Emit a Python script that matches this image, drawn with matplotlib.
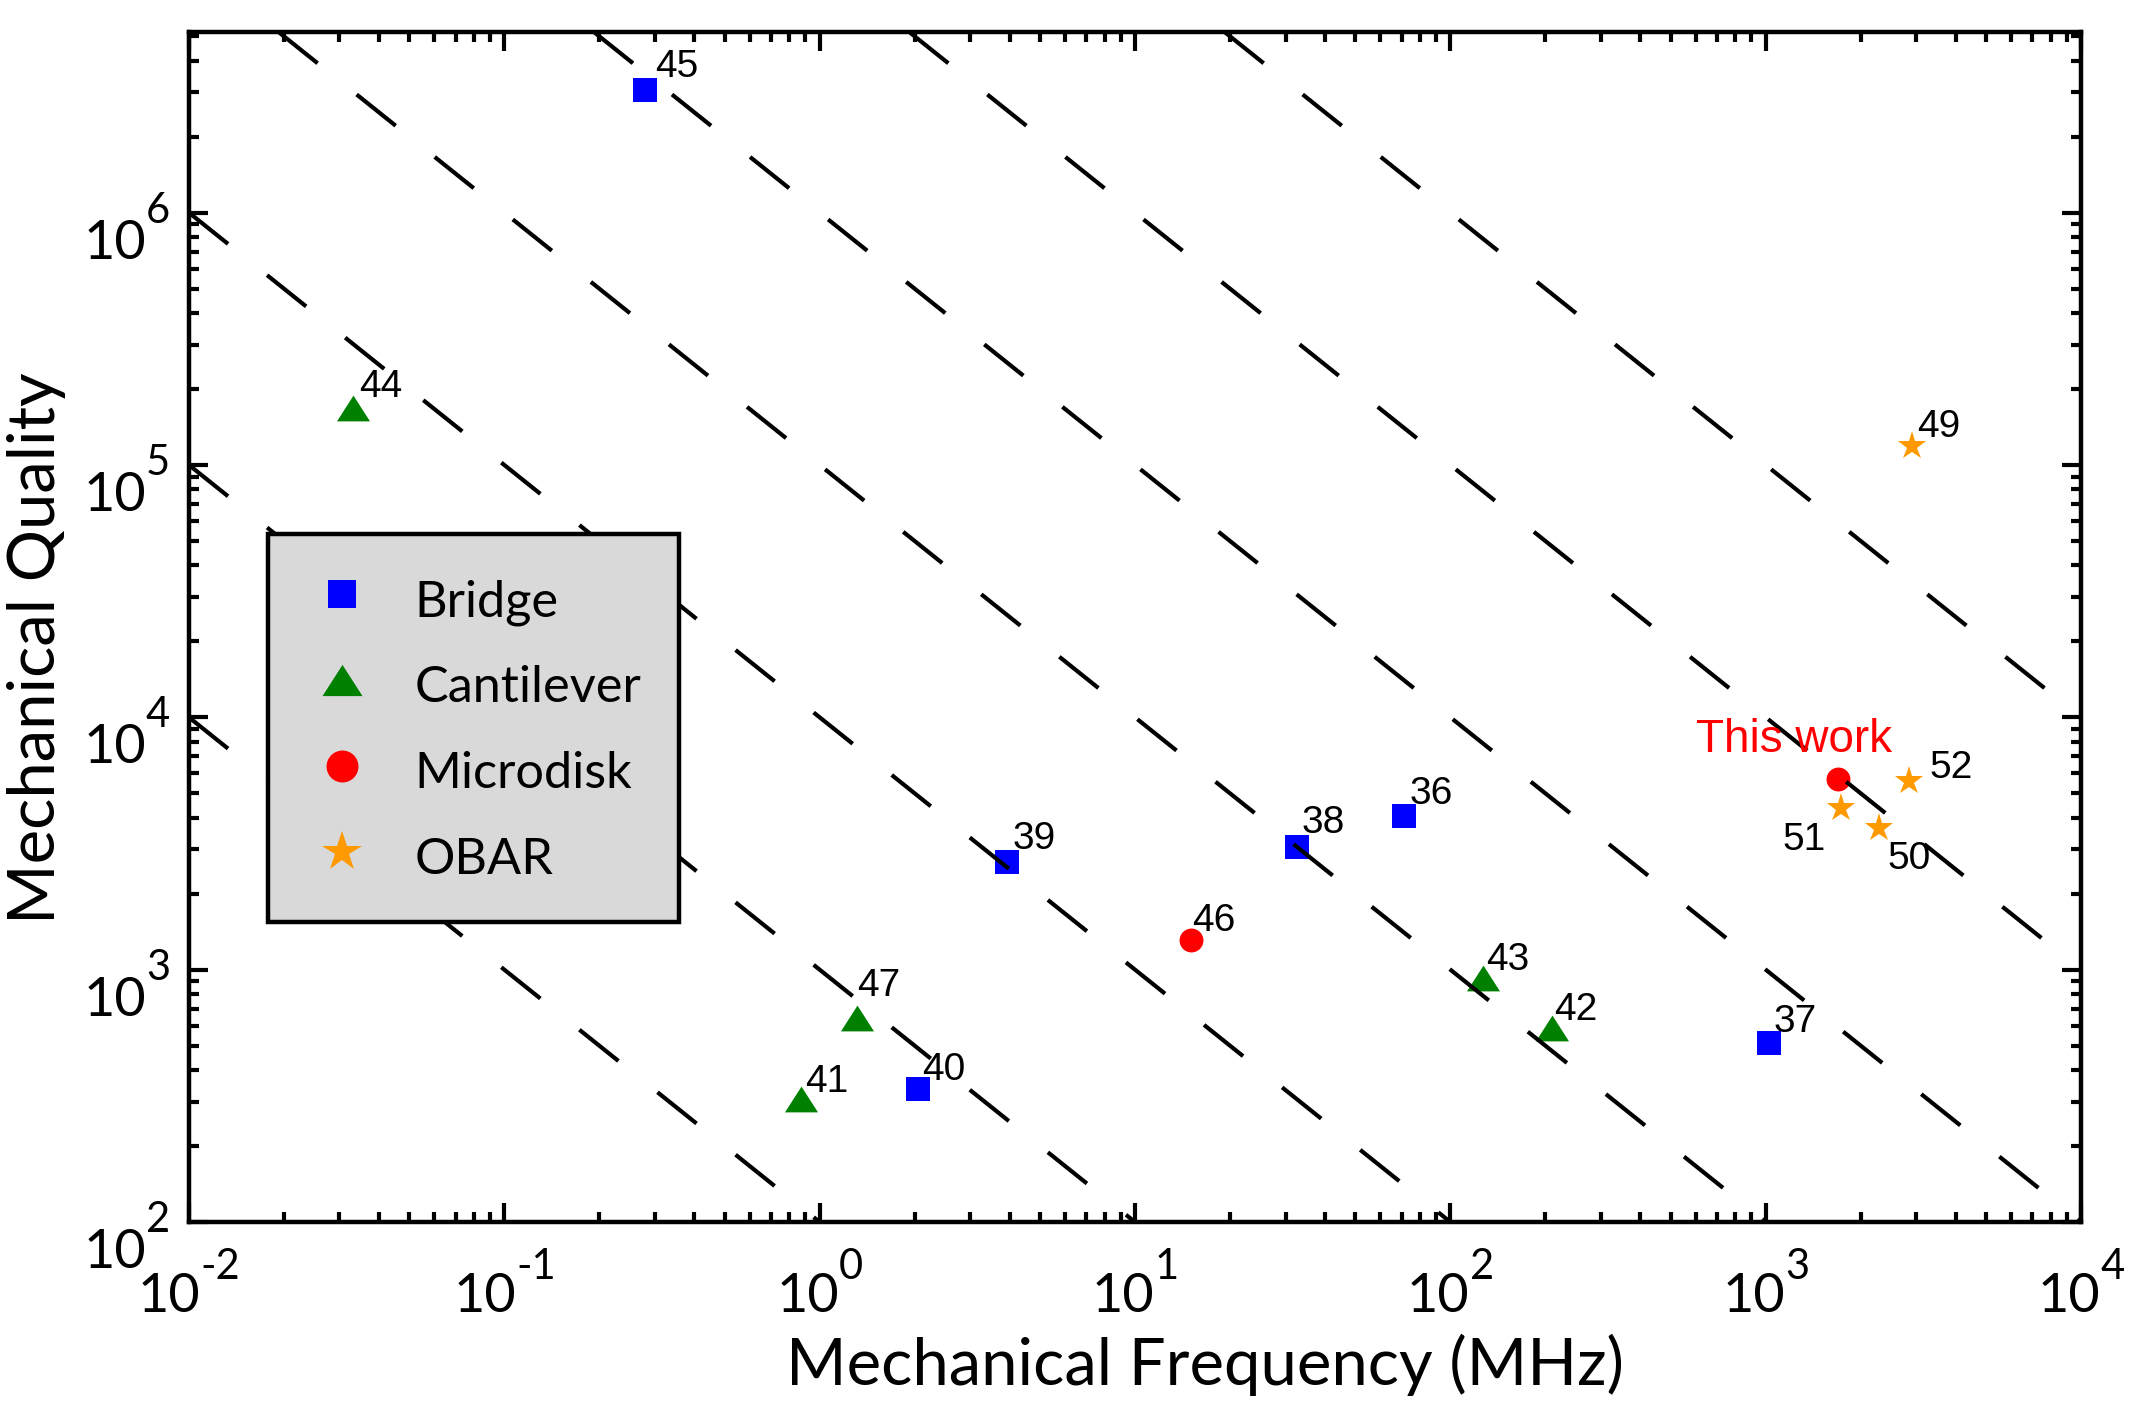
import matplotlib
matplotlib.use("Agg")
import matplotlib.pyplot as plt
from matplotlib.lines import Line2D
from matplotlib.ticker import LogLocator, NullFormatter
import numpy as np

# Reference number, mechanical frequency (MHz) and mechanical Q per device class
BRIDGE_REF = ["45", "39", "38", "36", "40", "37"]
BRIDGE_FREQ = [0.279, 3.92, 32.6, 71.3, 2.05, 1025]
BRIDGE_Q = [3.05e6, 2675, 3070, 4055, 336, 513]

CANT_REF = ["44", "47", "41", "43", "42"]
CANT_FREQ = [0.033, 1.31, 0.873, 126.7, 210]
CANT_Q = [1.69e5, 646, 308, 931, 590]

DISK_REF = ["46", "This work"]
DISK_FREQ = [15.0, 1693]
DISK_Q = [1315, 5680]

OBAR_REF = ["49", "50", "51", "52"]
OBAR_FREQ = [2904, 2285, 1734, 2856]
OBAR_Q = [1.19e5, 3630, 4360, 5610]

# constant f*Q guide lines (MHz)
FQ_PRODUCTS = [1e2, 1e3, 1e4, 1e5, 1e6, 1e7, 1e8]

XLIM = (1e-2, 1e4)
YLIM = (1e2, 5.2e6)
X_DECADES = [-2, -1, 0, 1, 2, 3, 4]
Y_DECADES = [2, 3, 4, 5, 6]

# label offsets in points from the marker centre: (dx, dy, ha)
LABEL_POS = {
    "45": (3.6, 5.0, "left"), "44": (2.4, 3.8, "left"),
    "41": (1.3, 2.5, "left"), "47": (0.0, 7.6, "left"),
    "43": (1.2, 2.8, "left"), "42": (0.8, 2.8, "left"),
    "37": (1.5, 4.0, "left"), "46": (0.7, 3.0, "left"),
    "40": (1.5, 3.5, "left"), "39": (2.2, 4.7, "left"),
    "38": (1.8, 4.8, "left"), "36": (1.8, 4.5, "left"),
    "49": (1.9, 3.2, "left"), "52": (7.3, 1.0, "left"),
    "51": (-5.4, -15.0, "right"), "50": (3.0, -14.6, "left"),
    "This work": (-15.8, 9.9, "center"),
}

BLUE = "#0000ff"
GREEN = "#008000"
RED = "#ff0000"
ORANGE = "#ff9900"
TRI = [(0, 0.78), (-1, -0.78), (1, -0.78)]

BASE_PT = 19.4
EXP_PT = 15.0


def exp_width(s):
    # rough advance width of an exponent string, in points
    return sum(0.37 if c == "-" else 0.58 for c in s) * EXP_PT


plt.rcParams["font.family"] = ["Lato", "DejaVu Sans"]

fig = plt.figure(figsize=(10.69, 7.05), dpi=200)
ax = fig.add_axes([0.0884, 0.1333, 0.8850, 0.8440])
ax.set_xscale("log")
ax.set_yscale("log")
ax.set_xlim(*XLIM)
ax.set_ylim(*YLIM)

# f*Q guide lines, clipped to the plotting box so the dash starts at the edge
for fq in FQ_PRODUCTS:
    x0 = max(XLIM[0], fq / YLIM[1])
    x1 = min(XLIM[1], fq / YLIM[0])
    ax.plot([x0, x1], [fq / x0, fq / x1], color="black", lw=1.5,
            linestyle=(0, (12, 12)), zorder=4, dash_capstyle="butt")

groups = [
    (BRIDGE_REF, BRIDGE_FREQ, BRIDGE_Q, "s", 8.8, BLUE),
    (CANT_REF, CANT_FREQ, CANT_Q, TRI, 11.9, GREEN),
    (DISK_REF, DISK_FREQ, DISK_Q, "o", 8.6, RED),
    (OBAR_REF, OBAR_FREQ, OBAR_Q, "*", 10.6, ORANGE),
]
for refs, freq, q, marker, ms, color in groups:
    ax.plot(freq, q, ls="none", marker=marker, ms=ms, color=color,
            mew=0, zorder=3)
    for r, f, v in zip(refs, freq, q):
        dx, dy, ha = LABEL_POS[r]
        this = r == "This work"
        ax.annotate(r, xy=(f, v), xytext=(dx, dy), textcoords="offset points",
                    ha=ha, va="baseline", fontsize=16.5 if this else 14,
                    color=RED if this else "black",
                    family=["Liberation Sans", "DejaVu Sans"], zorder=5)

# axes frame and ticks
for sp in ax.spines.values():
    sp.set_linewidth(1.6)
ax.xaxis.set_major_locator(LogLocator(base=10, numticks=100))
ax.yaxis.set_major_locator(LogLocator(base=10, numticks=100))
ax.xaxis.set_minor_locator(LogLocator(base=10, subs=np.arange(2, 10), numticks=100))
ax.yaxis.set_minor_locator(LogLocator(base=10, subs=np.arange(2, 10), numticks=100))
ax.xaxis.set_minor_formatter(NullFormatter())
ax.yaxis.set_minor_formatter(NullFormatter())
ax.tick_params(which="both", direction="in", top=True, right=True,
               labelbottom=False, labelleft=False, width=1.5)
ax.tick_params(which="major", length=7)
ax.tick_params(which="minor", length=3.5)

# MATLAB-style decade labels with a raised exponent
for k in X_DECADES:
    e = str(k)
    ten = ax.annotate("10", xy=(10.0 ** k, 0), xycoords=("data", "axes fraction"),
                      xytext=(-exp_width(e) / 2, -32.4), textcoords="offset points",
                      ha="center", va="baseline", fontsize=BASE_PT,
                      annotation_clip=False)
    ax.annotate(e, xy=(1, 1), xycoords=ten, xytext=(0, -2.5),
                textcoords="offset points", ha="left", va="baseline",
                fontsize=EXP_PT, annotation_clip=False)

for k in Y_DECADES:
    e = str(k)
    ten = ax.annotate("10", xy=(0, 10.0 ** k), xycoords=("axes fraction", "data"),
                      xytext=(-6.8 - exp_width(e), -16.6), textcoords="offset points",
                      ha="right", va="baseline", fontsize=BASE_PT,
                      annotation_clip=False)
    ax.annotate(e, xy=(1, 1), xycoords=ten, xytext=(0, -1.4),
                textcoords="offset points", ha="left", va="baseline",
                fontsize=EXP_PT, annotation_clip=False)

ax.set_xlabel("Mechanical Frequency (MHz)", fontsize=23.5)
ax.xaxis.set_label_coords(0.537, -0.137)
ax.xaxis.label.set_va("baseline")
ax.set_ylabel("Mechanical Quality", fontsize=23.5)
ax.yaxis.set_label_coords(-0.0708, 0.482)
ax.yaxis.label.set_va("baseline")

handles = [
    Line2D([], [], ls="none", marker="s", ms=10.4, color=BLUE, mew=0),
    Line2D([], [], ls="none", marker=TRI, ms=14.4, color=GREEN, mew=0),
    Line2D([], [], ls="none", marker="o", ms=11.5, color=RED, mew=0),
    Line2D([], [], ls="none", marker="*", ms=14.8, color=ORANGE, mew=0),
]
leg = ax.legend(handles, ["Bridge", "Cantilever", "Microdisk", "OBAR"],
                loc="upper left", bbox_to_anchor=(0.0418, 0.5785),
                borderaxespad=0, fontsize=18.2, fancybox=False,
                facecolor="#d9d9d9", edgecolor="black", framealpha=1,
                borderpad=0.75, handlelength=1.42, handletextpad=0.72,
                handleheight=1.3, labelspacing=0.61)
leg.get_frame().set_linewidth(1.6)
leg.set_zorder(6)

fig.savefig("out.png", dpi=200)
